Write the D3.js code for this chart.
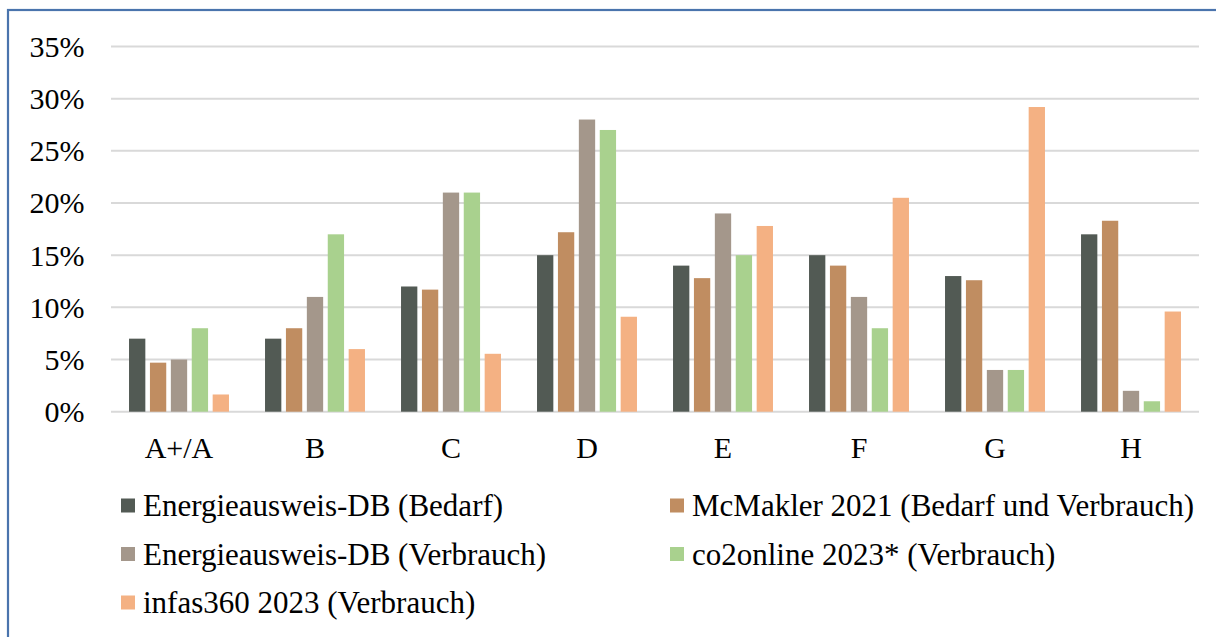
<!DOCTYPE html>
<html>
<head>
<meta charset="utf-8">
<script src="https://cdn.jsdelivr.net/npm/d3@7"></script>
<style>
html,body{margin:0;padding:0;background:#fff;}
svg{display:block;}
svg text{font-family:"Liberation Serif","Times New Roman",Tinos,"DejaVu Serif",serif !important;fill:#000;}
</style>
</head>
<body>
<svg id="chart" width="1216" height="637"></svg>
<script>
const categories = ["A+/A","B","C","D","E","F","G","H"];
const seriesNames = [
  "Energieausweis-DB (Bedarf)",
  "McMakler 2021 (Bedarf und Verbrauch)",
  "Energieausweis-DB (Verbrauch)",
  "co2online 2023* (Verbrauch)",
  "infas360 2023 (Verbrauch)"
];
const energieBedarf   = [7, 7, 12, 15, 14, 15, 13, 17];
const mcMakler        = [4.7, 8, 11.7, 17.2, 12.8, 14, 12.6, 18.3];
const energieVerbrauch= [5, 11, 21, 28, 19, 11, 4, 2];
const co2online       = [8, 17, 21, 27, 15, 8, 4, 1];
const infas360        = [1.65, 6.0, 5.55, 9.1, 17.8, 20.5, 29.2, 9.6];
const yTicks = [0, 5, 10, 15, 20, 25, 30, 35];
const colors = ["#525a54", "#c08d61", "#a4978b", "#a9d18e", "#f4b183"];

const seriesValues = [energieBedarf, mcMakler, energieVerbrauch, co2online, infas360];

const svg = d3.select("#chart");

// outer border (right and bottom edges lie outside the picture)
svg.append("rect").attr("x", 8).attr("y", 10).attr("width", 1230).attr("height", 660)
  .attr("fill", "none").attr("stroke", "#4a74ad").attr("stroke-width", 2.2);

const x0 = d3.scaleBand().domain(categories).range([111, 1199]).paddingInner(0.235).paddingOuter(0.1175);
const x1 = d3.scaleBand().domain(d3.range(seriesNames.length)).range([0, x0.bandwidth()]).paddingInner(0.22).paddingOuter(0.098);
const y = d3.scaleLinear().domain([0, 35]).range([411.7, 46.5]);

// y axis labels
const yAxis = d3.axisLeft(y).tickValues(yTicks).tickSize(0).tickPadding(0).tickFormat(d => d + "%");
const gAxis = svg.append("g").attr("transform", "translate(84.5,0)").call(yAxis);
gAxis.attr("font-family", null);
gAxis.select(".domain").remove();
gAxis.selectAll("text").style("font-size", "30px").attr("text-anchor", "end").attr("x", 0).attr("dy", "0.33em")
  .attr("fill", "#000");

// gridlines
svg.append("g").selectAll("line").data(yTicks).join("line")
  .attr("x1", 111).attr("x2", 1199)
  .attr("y1", d => y(d)).attr("y2", d => y(d))
  .attr("stroke", "#d9d9d9").attr("stroke-width", 2);

// bars
const groups = svg.append("g").selectAll("g").data(categories).join("g")
  .attr("transform", d => `translate(${x0(d)},0)`);
groups.selectAll("rect").data((c, i) => seriesValues.map((arr, s) => ({s, v: arr[i]})))
  .join("rect")
  .attr("x", d => x1(d.s))
  .attr("width", x1.bandwidth())
  .attr("y", d => y(d.v))
  .attr("height", d => y(0) - y(d.v))
  .attr("fill", d => colors[d.s]);

// x axis labels
const xAxis = d3.axisBottom(x0).tickSize(0).tickPadding(0);
const gx = svg.append("g").attr("transform", "translate(0,458)").call(xAxis);
gx.attr("font-family", null);
gx.select(".domain").remove();
gx.selectAll("text").style("font-size", "30px").attr("y", 0).attr("dy", "0")
  .attr("fill", "#000");

// legend
const legendPos = [
  [121, 505.5], [670, 505.5],
  [121, 554], [670, 554],
  [121, 602.5]
];
const lg = svg.append("g").selectAll("g").data(seriesNames).join("g")
  .attr("transform", (d, i) => `translate(${legendPos[i][0]},${legendPos[i][1]})`);
lg.append("rect").attr("x", 0).attr("y", -7).attr("width", 14).attr("height", 14)
  .attr("fill", (d, i) => colors[i]);
lg.append("text").attr("x", 22).attr("y", 10.8).style("font-size", "31px").text(d => d);
</script>
</body>
</html>
